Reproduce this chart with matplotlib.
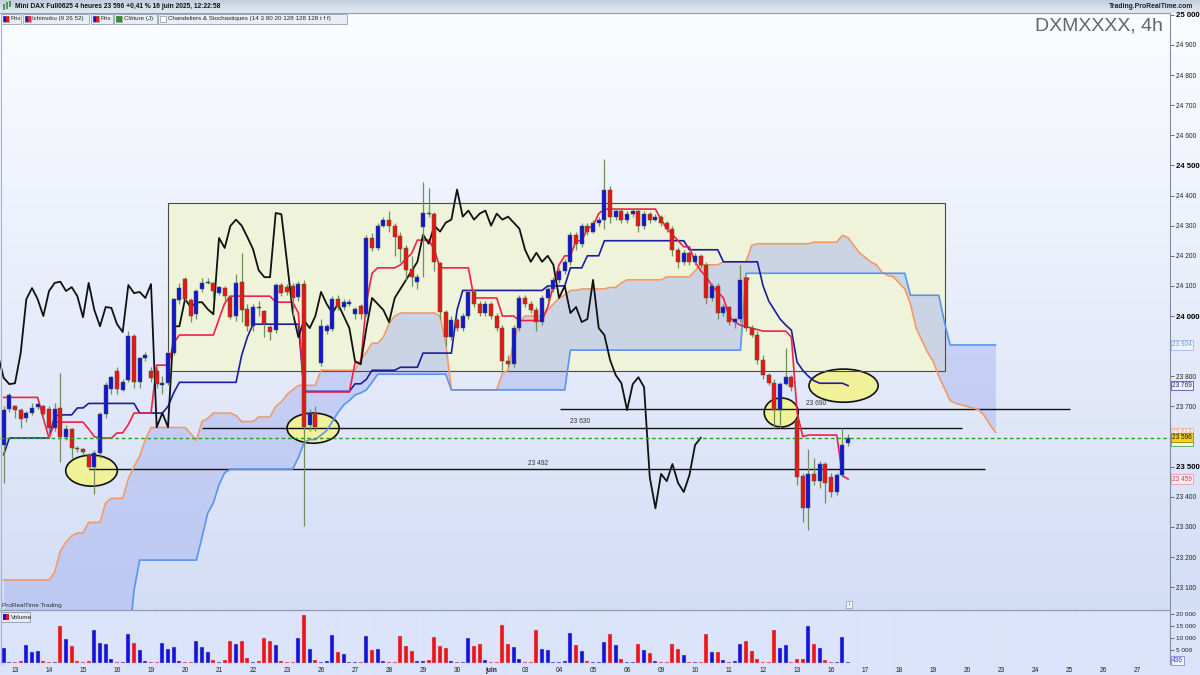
import numpy as np
import matplotlib
matplotlib.use("Agg")
import matplotlib.pyplot as plt
from matplotlib.patches import Ellipse, Rectangle
from matplotlib.colors import to_rgb

plt.rcParams['font.family'] = ['Liberation Sans', 'DejaVu Sans']

# ---------------- data (4h bars, index 0 = 13 May 00h, 6 bars per day) ----------------
day_labels = ["13", "14", "15", "16", "19", "20", "21", "22", "23", "26", "27", "28", "29", "30",
              "juin", "03", "04", "05", "06", "09", "10", "11", "12", "13", "16", "17", "18", "19",
              "20", "23", "24", "25", "26", "27"]
bars_per_day = 6
first_bar = -2

opens = [23572, 23691, 23700, 23688, 23661, 23678, 23698, 23700, 23690, 23628, 23695, 23598, 23624, 23562,
         23558, 23540, 23500, 23545, 23675, 23758, 23817, 23755, 23788, 23933, 23782, 23860, 23817, 23817,
         23770, 23777, 23877, 24053, 24123, 24053, 24006, 24089, 24111, 24110, 24076, 24093, 24063, 24000,
         24113, 24023, 23966, 24030, 24016, 23963, 23953, 24103, 24096, 24100, 24063, 24106, 23638, 23678,
         23844, 23950, 23956, 24056, 24030, 24040, 24006, 24033, 24006, 24259, 24226, 24300, 24320, 24300,
         24265, 24225, 24155, 24113, 24295, 24342, 24338, 24176, 24013, 23930, 23986, 23960, 24000, 24080,
         24040, 24010, 24040, 24000, 23960, 23850, 23840, 23960, 24060, 24040, 24020, 23980, 24060, 24090,
         24120, 24150, 24180, 24270, 24240, 24300, 24280, 24310, 24320, 24420, 24330, 24350, 24320, 24340,
         24350, 24300, 24340, 24320, 24330, 24310, 24290, 24220, 24180, 24210, 24180, 24200, 24170, 24060,
         24100, 24010, 24030, 23980, 23990, 24120, 23960, 23937, 23854, 23804, 23777, 23688, 23774, 23797,
         23655, 23469, 23362, 23476, 23452, 23509, 23466, 23416, 23472, 23578]
highs = [23700, 23745, 23705, 23695, 23685, 23712, 23712, 23705, 23700, 23712, 23810, 23640, 23630, 23570,
         23562, 23545, 23555, 23680, 23780, 23800, 23830, 23790, 23950, 23940, 23865, 23880, 23830, 23830,
         23800, 23885, 24060, 24110, 24130, 24060, 24090, 24125, 24125, 24112, 24100, 24100, 24070, 24140,
         24210, 24040, 24040, 24050, 24020, 23970, 24110, 24110, 24105, 24110, 24115, 24120, 23690, 23700,
         23990, 23975, 24065, 24070, 24055, 24055, 24030, 24040, 24270, 24275, 24310, 24330, 24350, 24310,
         24280, 24235, 24200, 24140, 24444, 24424, 24345, 24180, 24020, 24000, 23995, 24010, 24090, 24090,
         24050, 24050, 24045, 24010, 23970, 23870, 23970, 24070, 24070, 24050, 24030, 24070, 24100, 24130,
         24160, 24190, 24280, 24280, 24310, 24310, 24320, 24330, 24520, 24430, 24360, 24355, 24350, 24360,
         24360, 24350, 24345, 24340, 24335, 24315, 24300, 24230, 24220, 24215, 24210, 24205, 24180, 24110,
         24110, 24040, 24035, 23995, 24170, 24130, 23970, 23950, 23870, 23810, 23790, 23780, 23895, 23805,
         23660, 23480, 23560, 23530, 23520, 23515, 23480, 23480, 23630, 23610]
lows = [23446, 23680, 23660, 23630, 23650, 23670, 23690, 23660, 23600, 23620, 23515, 23590, 23530, 23550,
        23540, 23490, 23409, 23530, 23660, 23740, 23740, 23750, 23780, 23760, 23760, 23850, 23780, 23760,
        23740, 23770, 23870, 24040, 24050, 23980, 23990, 24080, 24105, 24060, 24070, 24040, 23990, 23985,
        23980, 23950, 23950, 24000, 23930, 23920, 23945, 24065, 24070, 24000, 24050, 23302, 23620, 23620,
        23835, 23940, 23950, 24020, 24020, 24035, 23990, 23990, 24000, 24215, 24220, 24295, 24280, 24200,
        24180, 24120, 24100, 24090, 24130, 24330, 24150, 23990, 23900, 23920, 23950, 23950, 23990, 24030,
        24000, 24000, 23990, 23950, 23820, 23830, 23830, 23950, 24030, 24010, 23950, 23970, 24050, 24080,
        24110, 24140, 24170, 24220, 24230, 24270, 24275, 24300, 24290, 24310, 24320, 24310, 24310, 24330,
        24280, 24290, 24310, 24315, 24300, 24280, 24200, 24160, 24170, 24170, 24170, 24160, 24040, 24050,
        23990, 24000, 23970, 23960, 23980, 23950, 23930, 23840, 23790, 23770, 23630, 23630, 23770, 23750,
        23440, 23316, 23290, 23440, 23430, 23380, 23400, 23405, 23465, 23570]
closes = [23688, 23738, 23688, 23658, 23678, 23695, 23707, 23675, 23628, 23690, 23600, 23624, 23562, 23559,
          23550, 23500, 23545, 23675, 23770, 23797, 23758, 23780, 23933, 23782, 23860, 23870, 23795, 23774,
          23777, 23877, 24056, 24093, 24056, 24000, 24083, 24110, 24114, 24083, 24096, 24066, 23996, 24110,
          24020, 23966, 24030, 24027, 23973, 23947, 24103, 24076, 24080, 24060, 24106, 23631, 23678, 23631,
          23966, 23966, 24056, 24030, 24045, 24046, 24023, 24006, 24259, 24226, 24299, 24320, 24300, 24262,
          24222, 24152, 24129, 24129, 24342, 24338, 24179, 24013, 23930, 23986, 23960, 24000, 24080, 24040,
          24010, 24040, 24000, 23960, 23850, 23840, 23960, 24060, 24040, 24020, 23980, 24060, 24090, 24120,
          24150, 24180, 24270, 24240, 24300, 24280, 24310, 24320, 24420, 24330, 24350, 24320, 24340, 24350,
          24300, 24340, 24320, 24330, 24310, 24290, 24220, 24180, 24210, 24180, 24200, 24170, 24060, 24100,
          24010, 24030, 23980, 23990, 24120, 23960, 23937, 23854, 23804, 23777, 23688, 23774, 23797, 23764,
          23466, 23362, 23476, 23452, 23509, 23446, 23416, 23472, 23572, 23596]
volumes = [6200, 400, 400, 700, 7400, 4300, 4600, 700, 300, 300, 15100, 9500, 7000, 800, 300, 800, 13500,
           8000, 7700, 1350, 300, 300, 11800, 8000, 5000, 700, 300, 300, 8200, 5700, 6600, 800, 300, 300,
           9000, 6300, 4300, 1100, 300, 1100, 8800, 7700, 9000, 1900, 300, 800, 10100, 9000, 7200, 800, 300,
           300, 10000, 19600, 5400, 950, 300, 700, 11200, 4300, 3400, 300, 300, 300, 10900, 5100, 5400, 700,
           300, 300, 10800, 7000, 4700, 700, 700, 1100, 10400, 6800, 6200, 700, 300, 300, 9900, 7000, 7600,
           1100, 300, 300, 15500, 7600, 6300, 1600, 300, 300, 13200, 5400, 5000, 300, 300, 700, 12000, 7200,
           4700, 700, 300, 300, 8500, 11600, 7200, 1600, 300, 300, 7600, 5000, 4000, 700, 300, 300, 7600,
           5400, 3100, 300, 300, 300, 11600, 4300, 4300, 950, 300, 800, 7800, 8800, 4700, 1600, 400, 400,
           13200, 6100, 7200, 400, 1350, 1350, 14900, 7600, 5900, 1100, 300, 300, 10400, 436]

tenkan = ([23730] * 7 + [23660, 23595] + [23648] * 6 + [23625, 23600] + [23595] * 3 + [23612] * 2 +
          [23640] + [23678] * 4 + [23837] * 3 + [23910] + [23937] * 7 + [23990, 24043] + [24066] * 8 +
          [24046] * 4 + [24010] + [23748] * 9 + [23845] * 2 + [24043, 24142] + [24160] * 4 +
          [24170, 24190, 24208] + [24252] * 3 + [24220] + [24160] * 6 + [24060] * 5 + [24000] * 3 +
          [23985] * 5 + [24030, 24100, 24170] + [24200] * 2 + [24250] * 2 + [24290, 24300, 24340] +
          [24355] * 10 + [24320, 24290, 24270, 24250] + [24230] * 2 +
          [24180, 24150, 24130, 24100, 24080, 24060, 24000, 23980, 23970, 23965, 23960, 23955] +
          [23950] * 5 + [23930, 23680, 23600] + [23605] * 6 + [23470, 23459])
kijun = ([23540] + [23595] * 8 + [23668] + [23672] * 3 + [23695] * 2 + [23710] * 9 + [23678] * 5 +
         [23700, 23745] + [23780] * 11 + [23870, 23930] + [23973] * 9 + [23750] * 9 + [23775] * 2 +
         [23790] + [23820] * 5 + [23830] * 4 + [23877] * 6 + [24020] + [24085] * 15 + [24100] * 4 +
         [24160] * 3 + [24200] * 3 + [24250] * 15 + [24220] * 6 + [24180] * 7 +
         [24100, 24050, 24020, 23990, 23970, 23953, 23847, 23820, 23800, 23785] + [23777] * 5 + [23769])
senkou_a = ([23124] * 9 + [23150, 23220, 23250, 23270] + [23280] * 2 + [23315] * 3 + [23380] +
            [23395] * 3 + [23460, 23500, 23535, 23590] + [23630] * 7 + [23610, 23588, 23650, 23660] +
            [23678] * 4 + [23670] + [23650] * 3 + [23665] * 3 + [23700, 23715, 23740, 23755] +
            [23770] * 4 + [23820] * 7 + [23855, 23880] + [23910] * 2 + [23930, 23975, 24000] +
            [24010] * 7 + [24000, 23910] + [23755] * 9 + [23810, 23820, 23917, 23980] + [24000] * 4 +
            [24020, 24040, 24060, 24070] + [24085] * 2 + [24090] * 5 + [24095] * 2 + [24110] +
            [24120] * 7 + [24130] * 5 + [24150] + [24170] * 4 + [24180] * 5 + [24235] + [24240] * 10 +
            [24245] * 5 + [24268, 24260, 24235, 24210, 24195, 24180, 24170, 24145, 24135, 24130, 24110,
                           24090, 24040, 23960, 23920, 23880, 23850, 23800, 23760, 23720, 23710, 23705,
                           23700, 23695, 23690, 23670, 23640, 23614])
senkou_b = ([22900] * 23 + [23090] + [23190] * 11 + [23266, 23346, 23380, 23440, 23480] + [23492] * 12 +
            [23530, 23580] + [23590] * 2 + [23605, 23620, 23650, 23680, 23705, 23720, 23738, 23745, 23755,
                                            23780] + [23807] * 13 + [23755] * 21 + [23887] * 31 +
            [24142] * 29 + [24069] * 6 + [23980] + [23904] * 9)
chikou_shift = 26
prev_day_close = 23585

levels = [23690, 23630, 23492]
box_low, box_high = 23818, 24375

# ---------------- figure ----------------
W, H = 1200, 675
fig = plt.figure(figsize=(12, 6.75), dpi=100)


def rect(x0, y0, x1, y1):
    return [x0 / W, 1 - y1 / H, (x1 - x0) / W, (y1 - y0) / H]


# background gradient
bg = fig.add_axes([0, 0, 1, 1], zorder=-10)
img = np.zeros((H, 1, 3))
h0, h1 = np.array(to_rgb('#c3cfde')), np.array(to_rgb('#e3e9f1'))
t0, t1 = np.array(to_rgb('#fbfcff')), np.array(to_rgb('#d3ddf6'))
vc = np.array(to_rgb('#dbe4fa'))
for y in range(H):
    if y < 13:
        t = y / 12.0
        img[y, 0] = h0 * (1 - t) + h1 * t
    elif y < 610:
        t = (y - 13) / 597.0
        img[y, 0] = t0 * (1 - t) + t1 * t
    else:
        img[y, 0] = vc
bg.imshow(img, aspect='auto', extent=(0, W, H, 0), interpolation='bilinear')
bg.set_xlim(0, W)
bg.set_ylim(H, 0)
bg.axis('off')

ax = fig.add_axes(rect(0, 13, 1170, 610))
axv = fig.add_axes(rect(0, 611, 1170, 664))
for a in (ax, axv):
    a.set_facecolor('none')
    a.set_xlim(-2.647, 203.8)
    for s in ('top', 'bottom', 'left'):
        a.spines[s].set_visible(False)
    a.spines['right'].set_color('#7f8ea5')
    a.spines['right'].set_linewidth(0.8)
ax.set_ylim(23024.4, 25005.8)
axv.set_ylim(-530, 21100)

n = len(opens)
bars = np.arange(first_bar, first_bar + n)
cloud_x = np.arange(first_bar, first_bar + len(senkou_a))
o = np.array(opens, float)
h = np.array(highs, float)
l = np.array(lows, float)
c = np.array(closes, float)
up = c >= o
col_up, col_dn = '#1414d8', '#ee1414'
colors = np.where(up, col_up, col_dn)

# rectangle zone
ax.add_patch(Rectangle((27.0, box_low), 164.1 - 27.0, box_high - box_low, facecolor='#eef3da',
                       edgecolor='none', zorder=1))
# cloud
ax.fill_between(cloud_x, senkou_a, senkou_b, color='#a9b6f0', alpha=0.5, lw=0, zorder=2)
ax.add_patch(Rectangle((27.0, box_low), 164.1 - 27.0, box_high - box_low, facecolor='none',
                       edgecolor='#4a4a4a', lw=0.8, zorder=4))

# ellipses
ell_style = dict(facecolor='#f1f19a', edgecolor='#111111', lw=1.2, zorder=3)
ax.add_patch(Ellipse((13.5, 23487), 9.1, 103, **ell_style))
ax.add_patch(Ellipse((52.6, 23628), 9.2, 100, **ell_style))
ax.add_patch(Ellipse((135.2, 23680), 6.0, 96, **ell_style))
ax.add_patch(Ellipse((146.2, 23769), 12.2, 110, **ell_style))

# horizontal levels
ax.hlines(levels[0], 96.2, 186.2, color='#111111', lw=1.0, zorder=4)
ax.hlines(levels[1], 33.0, 167.1, color='#111111', lw=1.0, zorder=4)
ax.hlines(levels[2], 13.1, 171.2, color='#111111', lw=1.0, zorder=4)
for lv, xb in zip(levels, (141.3, 99.7, 92.3)):
    ax.text(xb, lv + 8, f"{lv:,}".replace(',', ' '), fontsize=4.8, color='#333333',
            ha='center', va='bottom', zorder=8)

# ichimoku lines
ax.plot(cloud_x, senkou_a, color='#f09a68', lw=1.2, zorder=5)
ax.plot(cloud_x, senkou_b, color='#5a94ee', lw=1.2, zorder=5)
ax.plot(bars, kijun, color='#1c1c9c', lw=1.2, zorder=5)
ax.plot(bars, tenkan, color='#f2204c', lw=1.2, zorder=5)
ax.plot(bars - chikou_shift, closes, color='#111111', lw=1.3, zorder=5)

# candles
ax.vlines(bars, l, h, color='#6f8f5c', lw=0.9, zorder=6)
body_bottom = np.minimum(o, c)
body_h = np.maximum(np.abs(c - o), 2.5)
ax.bar(bars, body_h, bottom=body_bottom, width=0.72, color=colors, edgecolor='#3f5f3a',
       linewidth=0.35, zorder=7)

# signal arrow on candle
ax.plot([bars[131]], [opens[131]], marker='v', color='#e02020', ms=3.5, zorder=8)

# green dashed close line
ax.axhline(closes[-1], color='#23a523', lw=1.0, dashes=(2.6, 2.0), zorder=8)

# volume
axv.bar(bars, volumes, width=0.72, color=colors, edgecolor='#c8c8e8', linewidth=0.3, zorder=3)

# axes ticks
ax.set_xticks([])
ax.yaxis.tick_right()
yt = list(range(23100, 25001, 100))
hidden = {23600, 23900}  # covered by the price tags in the reference
ax.set_yticks(yt)
ax.set_yticklabels(["" if v in hidden else f"{v:,}".replace(',', ' ') for v in yt])
ax.tick_params(axis='y', length=3, width=0.6, pad=1.5, labelsize=4.8, colors='#555555',
               labelcolor='#222222')
for lab, v in zip(ax.get_yticklabels(), yt):
    if v % 500 == 0:
        lab.set_fontweight('bold')
        lab.set_fontsize(5.6)
        lab.set_color('#000000')

axv.yaxis.tick_right()
vt = [5000, 10000, 15000, 20000]
axv.set_yticks(vt)
axv.set_yticklabels([f"{v:,}".replace(',', ' ') for v in vt])
axv.tick_params(axis='y', length=3, width=0.6, pad=1.5, labelsize=4.6, colors='#555555',
                labelcolor='#222222')
axv.set_xticks(np.arange(len(day_labels)) * bars_per_day)
axv.set_xticklabels(day_labels)
axv.tick_params(axis='x', length=0, pad=2.0, labelsize=4.8, labelcolor='#222222')
for lab in axv.get_xticklabels():
    if lab.get_text() == 'juin':
        lab.set_fontweight('bold')


# price tags on right axis
def tag(axis, val, txt, fc, ec, tc, z=10):
    axis.text(1.0018, val, txt, transform=axis.get_yaxis_transform(), fontsize=4.7, color=tc,
              ha='left', va='center', zorder=z, clip_on=False,
              bbox=dict(boxstyle='square,pad=0.18', fc=fc, ec=ec, lw=0.6))


fmt = lambda v: f"{int(round(v)):,}".replace(',', ' ')
tag(ax, senkou_b[-1], fmt(senkou_b[-1]), '#eef3fd', '#9ab6ee', '#6d9ae6')
tag(ax, kijun[-1], fmt(kijun[-1]), '#eef1fb', '#5555aa', '#22229a')
tag(ax, senkou_a[-1], fmt(senkou_a[-1]), '#f6f1ef', '#e6b59a', '#e59f80')
tag(ax, prev_day_close, fmt(prev_day_close), '#eef6ee', '#44aa44', '#229922')
tag(ax, closes[-1], fmt(closes[-1]), '#f2d21a', '#a08a10', '#111111', z=11)
tag(ax, tenkan[-1], fmt(tenkan[-1]), '#fbeef2', '#e89aaa', '#e3305a')
axv.text(1.0018, volumes[-1] + 400, str(volumes[-1]), transform=axv.get_yaxis_transform(),
         fontsize=4.7, color='#3a3ad0', ha='left', va='center', clip_on=False,
         bbox=dict(boxstyle='square,pad=0.18', fc='#eef1fb', ec='#8a8ad8', lw=0.6))

# ---------------- overlay (decorations in pixel space) ----------------
ov = fig.add_axes([0, 0, 1, 1], zorder=20)
ov.set_xlim(0, W)
ov.set_ylim(H, 0)
ov.axis('off')
ov.patch.set_alpha(0)

ov.plot([0, 1170], [12.8, 12.8], color='#8e9bb0', lw=0.8)
ov.plot([0, 1170], [610.3, 610.3], color='#8e9bb0', lw=0.9)
ov.plot([0.6, 0.6], [13, 664], color='#a6b2c4', lw=0.8)

# header icon
for xx, y0, y1, cc in ((4, 4, 10, '#3a9a3a'), (7, 2, 9, '#3a9a3a'), (10, 1, 7, '#3a9a3a')):
    ov.plot([xx, xx], [y0, y1], color=cc, lw=1.3, solid_capstyle='butt')
ov.text(15, 6.5, "Mini DAX Full0625 4 heures 23 596 +0,41 % 16 juin 2025, 12:22:58", fontsize=4.8,
        fontweight='bold', color='#111111', ha='left', va='center')
ov.text(1193, 6.5, "Trading.ProRealTime.com", fontsize=4.9, fontweight='bold', color='#1a2233',
        ha='right', va='center')
ov.text(1163, 26, "DXMXXXX, 4h", fontsize=14, color='#666666', ha='right', va='center')

# legend row
legend_items = [(1, 21, ('#1414d8', '#ee1414'), "Prix"),
                (23, 89, ('#1c1c9c', '#f2204c'), "Ichimoku (9 26 52)"),
                (91, 113, ('#1414d8', '#ee1414'), "Prix"),
                (114, 157, ('#18a018', '#18a018'), "Clôture (J)"),
                (158, 347, ('#ffffff', '#ffffff'), "Chandeliers & Stochastiques (14 3 80 20 128 128 128 t f f)")]
for x0, x1, (ca, cb), txt in legend_items:
    ov.add_patch(Rectangle((x0, 13.5), x1 - x0, 10.5, fc='#e9eef6', ec='#97a4b8', lw=0.6))
    ov.add_patch(Rectangle((x0 + 1.5, 15.5), 3, 6, fc=ca, ec='none'))
    ov.add_patch(Rectangle((x0 + 4.5, 15.5), 3, 6, fc=cb, ec='none'))
    ov.add_patch(Rectangle((x0 + 1.5, 15.5), 6, 6, fc='none', ec='#777777', lw=0.4))
    ov.text(x0 + 9.5, 18.9, txt, fontsize=4.5, color='#222222', ha='left', va='center')

# bottom panel labels
ov.text(2, 605.5, "ProRealTime Trading", fontsize=4.6, color='#333333', ha='left', va='center')
ov.add_patch(Rectangle((1, 612), 29, 10, fc='#e6ecf6', ec='#8c9ab0', lw=0.6))
ov.add_patch(Rectangle((3, 614), 3, 6, fc='#1414d8', ec='none'))
ov.add_patch(Rectangle((6, 614), 3, 6, fc='#ee1414', ec='none'))
ov.text(11, 617.2, "Volume", fontsize=4.6, color='#222222', ha='left', va='center')
ov.add_patch(Rectangle((846, 600.5), 6, 7, fc='#f4f6fa', ec='#9aa4b4', lw=0.6))
ov.text(849, 604, "i", fontsize=4, color='#555555', ha='center', va='center')

fig.savefig("out.png", dpi=100)
